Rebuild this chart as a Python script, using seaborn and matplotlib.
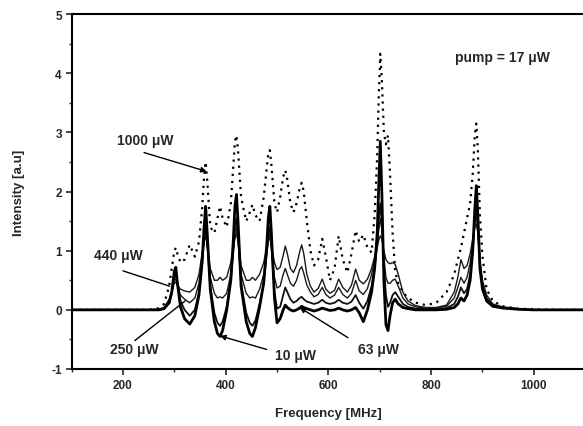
import matplotlib
matplotlib.use("Agg")
import matplotlib.pyplot as plt
import seaborn as sns
import pandas as pd
from matplotlib.ticker import MultipleLocator

freq = [100, 200, 250, 270, 280, 290, 295, 300, 303, 306, 312, 320, 330, 340, 348,
        354, 358, 361, 364, 370, 378, 384, 389, 394, 402, 410, 415, 418, 421, 424,
        430, 440, 447, 452, 458, 466, 474, 480, 483, 486, 489, 495, 500, 506, 512,
        516, 520, 526, 532, 538, 544, 548, 552, 558, 565, 572, 580, 588, 595, 603,
        612, 620, 628, 637, 645, 653, 660, 668, 676, 684, 690, 695, 698, 701, 704,
        708, 712, 716, 720, 725, 730, 736, 745, 755, 770, 790, 810, 830, 845, 852,
        858, 864, 870, 876, 881, 885, 888, 891, 895, 900, 908, 920, 940, 970, 1000,
        1050, 1100]

p10 = [0, 0, 0, 0, 0.02, 0.12, 0.3, 0.65, 0.72, 0.45, 0.05, -0.15, -0.24, -0.1, 0.25,
       0.8, 1.4, 1.75, 1.3, 0.35, -0.2, -0.4, -0.45, -0.35, 0.0, 0.5, 1.2, 1.75, 1.95, 1.5,
       0.4, -0.2, -0.4, -0.45, -0.3, 0.05, 0.45, 1.1, 1.55, 1.75, 1.3, 0.2, -0.22, -0.15, 0.0,
       0.08, 0.04, 0.0, -0.02, 0.0, 0.03, 0.06, 0.04, 0.02, 0.0, -0.02, 0.0, 0.03, 0.01, -0.01,
       0.0, 0.03, 0.0, -0.02, 0.0, 0.04, -0.05, -0.2, 0.0, 0.3, 0.7, 1.3, 2.1, 2.85, 2.0,
       0.5, -0.25, -0.35, -0.1, 0.12, 0.18, 0.1, 0.04, 0.02, 0.0, 0.0, 0.0, 0.01, 0.04, 0.1,
       0.2, 0.15, 0.25, 0.5, 1.0, 1.7, 2.1, 1.6, 0.7, 0.35, 0.15, 0.06, 0.03, 0.01, 0.0,
       0.0, 0.0]

p63 = [0, 0, 0, 0, 0.02, 0.12, 0.28, 0.55, 0.6, 0.45, 0.15, 0.0, -0.1, 0.0, 0.3,
       0.75, 1.2, 1.45, 1.15, 0.4, -0.05, -0.22, -0.27, -0.2, 0.05, 0.5, 1.0, 1.4, 1.55, 1.25,
       0.45, -0.05, -0.22, -0.27, -0.18, 0.1, 0.45, 0.95, 1.25, 1.4, 1.1, 0.3, 0.02, 0.05, 0.25,
       0.38, 0.3, 0.18, 0.12, 0.15, 0.2, 0.22, 0.18, 0.14, 0.12, 0.1, 0.12, 0.17, 0.12, 0.1,
       0.12, 0.17, 0.12, 0.1, 0.14, 0.25, 0.12, 0.02, 0.15, 0.4, 0.7, 1.1, 1.5, 1.8, 1.5,
       0.8, 0.25, 0.05, 0.12, 0.25, 0.3, 0.22, 0.1, 0.05, 0.02, 0.01, 0.01, 0.03, 0.1, 0.22,
       0.38, 0.28, 0.35, 0.6, 1.0, 1.5, 1.85, 1.45, 0.75, 0.4, 0.18, 0.08, 0.03, 0.01, 0.0,
       0, 0]

p250 = [0, 0, 0, 0.01, 0.03, 0.15, 0.3, 0.5, 0.52, 0.42, 0.25, 0.18, 0.12, 0.2, 0.45,
        0.85, 1.15, 1.3, 1.1, 0.55, 0.28, 0.2, 0.22, 0.2, 0.28, 0.6, 1.0, 1.3, 1.4, 1.2,
        0.6, 0.28, 0.2, 0.22, 0.2, 0.35, 0.6, 0.95, 1.15, 1.25, 1.05, 0.55, 0.37, 0.4, 0.6,
        0.7, 0.6, 0.45, 0.4, 0.5, 0.68, 0.73, 0.62, 0.42, 0.3, 0.22, 0.26, 0.38, 0.26, 0.2,
        0.25, 0.38, 0.26, 0.2, 0.28, 0.5, 0.32, 0.26, 0.36, 0.6, 0.85, 1.1, 1.35, 1.55, 1.35,
        0.9, 0.55, 0.45, 0.45, 0.5, 0.52, 0.4, 0.2, 0.1, 0.05, 0.03, 0.03, 0.06, 0.2, 0.38,
        0.55, 0.45, 0.55, 0.8, 1.1, 1.45, 1.6, 1.35, 0.8, 0.45, 0.2, 0.09, 0.04, 0.01, 0.0,
        0, 0]

p440 = [0, 0, 0, 0.01, 0.04, 0.18, 0.32, 0.45, 0.47, 0.42, 0.35, 0.32, 0.3, 0.38, 0.6,
        0.95, 1.15, 1.25, 1.1, 0.7, 0.5, 0.5, 0.55, 0.5, 0.55, 0.8, 1.05, 1.2, 1.3, 1.15,
        0.75, 0.5, 0.5, 0.55, 0.5, 0.6, 0.8, 1.05, 1.2, 1.25, 1.1, 0.8, 0.68, 0.72, 0.92,
        1.08, 0.95, 0.7, 0.63, 0.75, 0.98, 1.1, 0.95, 0.6, 0.4, 0.3, 0.36, 0.52, 0.35, 0.28,
        0.33, 0.52, 0.38, 0.3, 0.42, 0.69, 0.5, 0.44, 0.52, 0.7, 0.9, 1.05, 1.18, 1.25, 1.2,
        1.0, 0.85, 0.8, 0.78, 0.8, 0.77, 0.6, 0.3, 0.15, 0.07, 0.04, 0.04, 0.08, 0.3, 0.55,
        0.85, 0.7, 0.75, 0.95, 1.2, 1.4, 1.45, 1.3, 0.85, 0.5, 0.25, 0.1, 0.05, 0.02, 0.0,
        0, 0]

p1000 = [0, 0, 0, 0.03, 0.1, 0.4, 0.7, 1.0, 1.05, 0.95, 0.8, 0.85, 1.1, 0.9, 1.15,
         1.7, 2.25, 2.5, 2.2, 1.4, 1.3, 1.55, 1.75, 1.55, 1.4, 1.8, 2.45, 2.85, 2.95, 2.7,
         1.9, 1.5, 1.65, 1.78, 1.6, 1.5, 1.9, 2.4, 2.65, 2.7, 2.45, 1.8, 1.65, 1.9, 2.25,
         2.36, 2.2, 1.8, 1.65, 1.8, 2.05, 2.15, 2.0, 1.5, 1.0, 0.75, 0.85, 1.2, 0.9, 0.5,
         0.7, 1.25, 0.85, 0.63, 0.95, 1.34, 1.15, 1.27, 1.05, 0.97, 1.6, 2.6, 3.6, 4.33, 3.9,
         3.0, 2.8, 2.95, 2.3, 1.3, 0.65, 0.45, 0.3, 0.2, 0.12, 0.08, 0.12, 0.3, 0.6, 0.85,
         1.05, 1.3, 1.55, 1.8, 2.3, 2.95, 3.15, 2.7, 1.6, 0.9, 0.35, 0.15, 0.06, 0.02, 0.01,
         0, 0]

xticks = [200, 400, 600, 800, 1000]
yticks = [-1, 0, 1, 2, 3, 4, 5]

sns.set_style("ticks")
plt.rcParams['font.family'] = ['Liberation Sans', 'DejaVu Sans']
plt.rcParams['axes.unicode_minus'] = False

fig = plt.figure(figsize=(5.83, 4.27), dpi=100)
ax = fig.add_axes([0.1228, 0.1335, 0.881, 0.831])

df = pd.DataFrame({"freq": freq, "10": p10, "63": p63, "250": p250,
                   "440": p440, "1000": p1000})

styles = {
    "440": dict(color="#1a1a1a", lw=1.0, ls="-"),
    "250": dict(color="#1a1a1a", lw=1.0, ls="-"),
    "63": dict(color="#111111", lw=1.3, ls="-"),
    "10": dict(color="black", lw=2.0, ls="-"),
    "1000": dict(color="black", lw=1.6, ls=(0, (1, 2.2))),
}
for key in ["1000", "440", "250", "63", "10"]:
    st = styles[key]
    sns.lineplot(data=df, x="freq", y=key, ax=ax, color=st["color"],
                 linewidth=st["lw"], linestyle=st["ls"], estimator=None)

ax.set_xlim(100, 1100)
ax.set_ylim(-1, 5)
ax.set_xticks(xticks)
ax.set_yticks(yticks)
ax.xaxis.set_minor_locator(MultipleLocator(100))
ax.yaxis.set_minor_locator(MultipleLocator(0.5))
ax.tick_params(which="major", direction="out", length=4, width=1.2,
               labelsize=8.5, pad=3)
ax.tick_params(which="minor", direction="out", length=2.5, width=1.0)
ax.tick_params(top=False, right=False, which="both")
for s in ["left", "bottom", "top"]:
    ax.spines[s].set_linewidth(1.5)
    ax.spines[s].set_color("black")
ax.spines["right"].set_visible(False)
for lab in ax.get_xticklabels() + ax.get_yticklabels():
    lab.set_fontweight("bold")

ax.set_xlabel("Frequency [MHz]", fontsize=9.5, fontweight="bold", labelpad=12)
ax.set_ylabel("Intensity [a.u]", fontsize=9.5, fontweight="bold", labelpad=19)

tkw = dict(fontsize=10, ha="center", va="center", fontweight="bold")
ax.text(243, 2.88, "1000 μW", **tkw)
ax.text(192, 0.93, "440 μW", **tkw)
ax.text(223, -0.67, "250 μW", **tkw)
ax.text(535, -0.77, "10 μW", **tkw)
ax.text(698, -0.66, "63 μW", **tkw)
ax.text(939, 4.28, "pump = 17 μW", **tkw)

head = dict(arrowstyle="-|>", color="black", lw=1.0, mutation_scale=8,
            shrinkA=0, shrinkB=0)
plain = dict(arrowstyle="-", color="black", lw=1.0, shrinkA=0, shrinkB=0)
ax.annotate("", xy=(363, 2.34), xytext=(241, 2.66), arrowprops=head)
ax.annotate("", xy=(291, 0.40), xytext=(200, 0.66), arrowprops=plain)
ax.annotate("", xy=(321, 0.15), xytext=(223, -0.52), arrowprops=plain)
ax.annotate("", xy=(389, -0.44), xytext=(480, -0.67), arrowprops=head)
ax.annotate("", xy=(544, 0.04), xytext=(638, -0.47), arrowprops=head)

fig.savefig("out.png", dpi=100)
